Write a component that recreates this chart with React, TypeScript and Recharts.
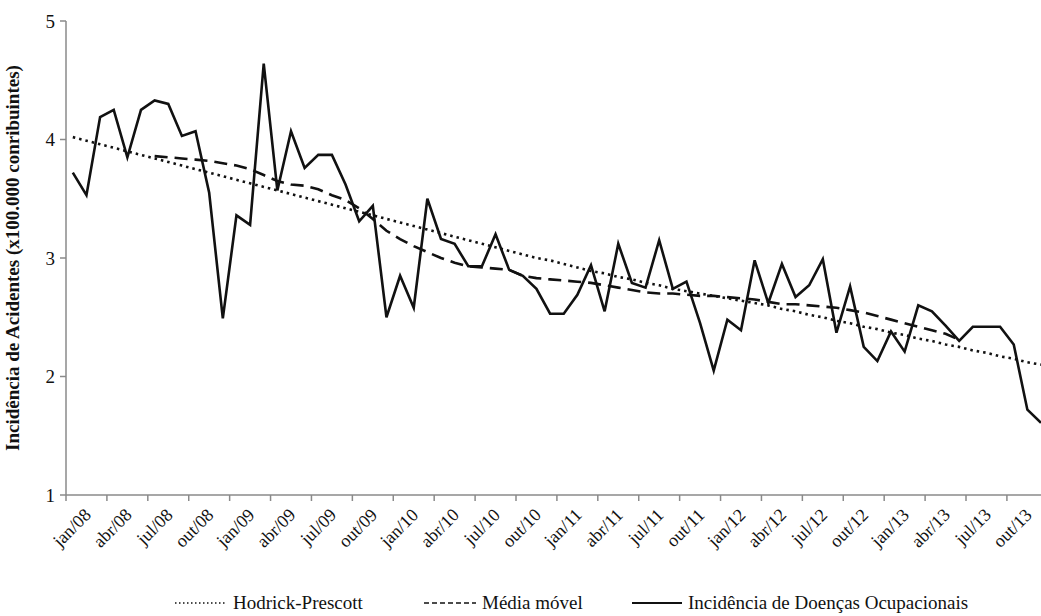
import React from 'react';
import { LineChart, Line, XAxis, YAxis } from 'recharts';

const tickLabels = [
  'jan/08', 'abr/08', 'jul/08', 'out/08',
  'jan/09', 'abr/09', 'jul/09', 'out/09',
  'jan/10', 'abr/10', 'jul/10', 'out/10',
  'jan/11', 'abr/11', 'jul/11', 'out/11',
  'jan/12', 'abr/12', 'jul/12', 'out/12',
  'jan/13', 'abr/13', 'jul/13', 'out/13',
];

// Incidência de Doenças Ocupacionais, monthly jan/08 .. dez/13
const incidencia = [
  3.72, 3.53, 4.19, 4.25, 3.85, 4.25, 4.33, 4.30, 4.03, 4.07, 3.55, 2.49,
  3.36, 3.28, 4.64, 3.57, 4.07, 3.76, 3.87, 3.87, 3.62, 3.31, 3.44, 2.50,
  2.85, 2.58, 3.50, 3.16, 3.12, 2.93, 2.93, 3.20, 2.90, 2.85, 2.74, 2.53,
  2.53, 2.69, 2.94, 2.55, 3.12, 2.79, 2.75, 3.15, 2.74, 2.80, 2.45, 2.05,
  2.48, 2.39, 2.98, 2.62, 2.95, 2.67, 2.77, 2.99, 2.37, 2.76, 2.25, 2.13,
  2.38, 2.21, 2.60, 2.55, 2.43, 2.30, 2.42, 2.42, 2.42, 2.27, 1.72, 1.61,
];

// Média móvel (only drawn jul/08 .. jun/13)
const mediaMovel = [
  null, null, null, null, null, null, 3.86, 3.85, 3.84, 3.83, 3.82, 3.80,
  3.78, 3.75, 3.70, 3.65, 3.62, 3.61, 3.58, 3.53, 3.49, 3.42, 3.33, 3.23,
  3.16, 3.10, 3.05, 3.00, 2.96, 2.93, 2.92, 2.91, 2.90, 2.85, 2.83, 2.82,
  2.81, 2.80, 2.79, 2.77, 2.75, 2.73, 2.71, 2.70, 2.70, 2.69, 2.68, 2.68,
  2.67, 2.66, 2.65, 2.63, 2.61, 2.61, 2.60, 2.59, 2.58, 2.56, 2.54, 2.51,
  2.48, 2.45, 2.42, 2.39, 2.36, 2.31, null, null, null, null, null, null,
];

// Hodrick-Prescott trend
const hodrick = [
  4.02, 3.99, 3.96, 3.93, 3.90, 3.87, 3.84, 3.81, 3.78, 3.75, 3.72, 3.69,
  3.66, 3.63, 3.60, 3.57, 3.54, 3.51, 3.48, 3.45, 3.42, 3.39, 3.36, 3.33,
  3.30, 3.27, 3.24, 3.21, 3.18, 3.15, 3.12, 3.09, 3.06, 3.03, 3.00, 2.98,
  2.95, 2.92, 2.89, 2.87, 2.84, 2.82, 2.79, 2.77, 2.74, 2.72, 2.70, 2.68,
  2.66, 2.64, 2.62, 2.60, 2.57, 2.55, 2.52, 2.50, 2.47, 2.45, 2.42, 2.40,
  2.37, 2.35, 2.32, 2.30, 2.27, 2.25, 2.22, 2.20, 2.17, 2.15, 2.12, 2.10,
];

const yTicks = [1, 2, 3, 4, 5];

const data = incidencia.map((v, i) => ({
  t: i + 0.5,
  inc: v,
  mm: mediaMovel[i],
  hp: hodrick[i],
}));

const FONT = '"Times New Roman", "Liberation Serif", Tinos, "DejaVu Serif", serif';
const AXIS = '#8a8a8a';

const MonthTick = (props: any) => {
  const { x, y, payload } = props;
  const ax = x + 26;
  const ay = y + 15;
  return (
    <text
      x={ax}
      y={ay}
      transform={`rotate(-45 ${ax} ${ay})`}
      textAnchor="end"
      fontFamily={FONT}
      fontSize={18}
      fill="#111"
    >
      {tickLabels[Math.round(payload.value / 3)]}
    </text>
  );
};

const YTitle = () => (
  <text
    x={19}
    y={258}
    transform="rotate(-90 19 258)"
    textAnchor="middle"
    fontFamily={FONT}
    fontSize={19}
    fontWeight="bold"
    fill="#111"
  >
    Incidência de Acidentes (x100.000 conribuintes)
  </text>
);

const LegendItem = ({ dash, label, width, left }: { dash?: string; label: string; width: number; left: number }) => (
  <div style={{ position: 'absolute', left, top: 0, display: 'flex', alignItems: 'center' }}>
    <svg width={width} height={10} style={{ marginRight: 6 }}>
      <line x1={0} y1={5} x2={width} y2={5} stroke="#111" strokeWidth={dash ? 1.6 : 2} strokeDasharray={dash} />
    </svg>
    <span>{label}</span>
  </div>
);

export default function App() {
  return (
    <div style={{ position: 'absolute', left: 0, top: 0, width: 1041, height: 616, background: '#fff', overflow: 'hidden' }}>
      <LineChart width={1041} height={616} data={data} margin={{ top: 21, right: 0, bottom: 0, left: 0 }}>
        <XAxis
          type="number"
          dataKey="t"
          domain={[0, 71.5]}
          allowDataOverflow
          ticks={tickLabels.map((_, k) => k * 3)}
          interval={0}
          height={121}
          tickSize={6}
          tickMargin={0}
          stroke={AXIS}
          strokeWidth={1.5}
          tick={<MonthTick />}
        />
        <YAxis
          type="number"
          domain={[1, 5]}
          ticks={yTicks}
          width={66}
          tickSize={6}
          tickMargin={5}
          stroke={AXIS}
          strokeWidth={1.5}
          tick={{ fill: '#111', fontSize: 19, fontFamily: FONT }}
          label={<YTitle />}
        />
        <Line dataKey="hp" stroke="#111" strokeWidth={2.6} strokeDasharray="2.5 4" dot={false} isAnimationActive={false} />
        <Line dataKey="mm" stroke="#111" strokeWidth={2.6} strokeDasharray="13 7" dot={false} isAnimationActive={false} />
        <Line dataKey="inc" stroke="#111" strokeWidth={2.6} dot={false} isAnimationActive={false} />
      </LineChart>
      <div
        style={{
          position: 'absolute',
          left: 0,
          top: 592,
          width: 1041,
          height: 24,
          fontFamily: FONT,
          fontSize: 19,
          color: '#111',
          whiteSpace: 'nowrap',
        }}
      >
        <LegendItem left={175} dash="1.5 2.5" label="Hodrick-Prescott" width={52} />
        <LegendItem left={424} dash="5 3" label="Média móvel" width={52} />
        <LegendItem left={632} label="Incidência de Doenças Ocupacionais" width={50} />
      </div>
    </div>
  );
}
